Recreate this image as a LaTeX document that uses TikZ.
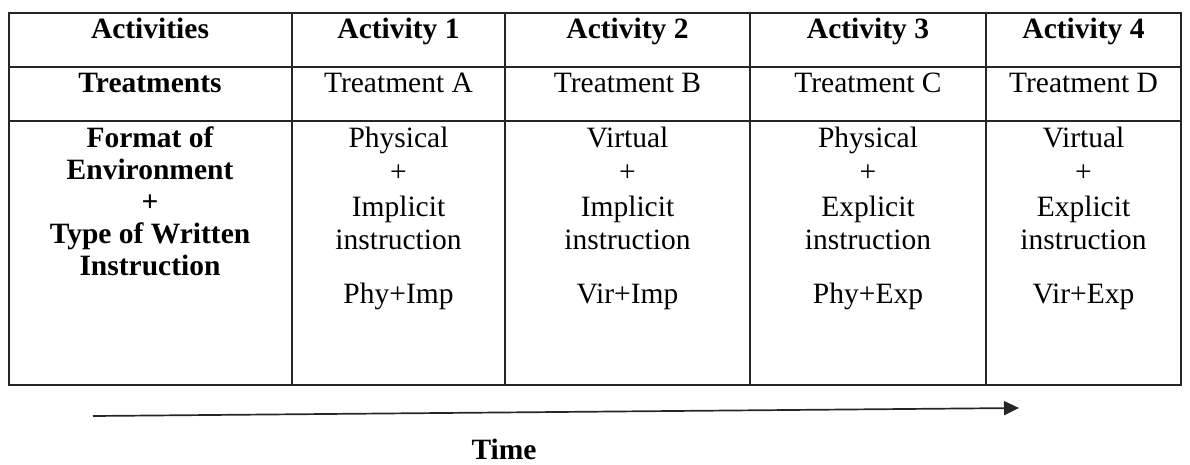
\documentclass[tikz,border=0pt]{standalone}
\usepackage{fontspec}
\setmainfont{Liberation Serif}
\usetikzlibrary{arrows.meta}
\begin{document}
\begin{tikzpicture}[x=1pt,y=-1pt,
  grid/.style={line width=1.5pt,black!85},
  txt/.style={inner sep=0pt,anchor=base,font=\fontsize{29.5}{34}\selectfont},
  btxt/.style={txt,font=\fontsize{29.5}{34}\selectfont\bfseries},
  timearrow/.style={line width=1.7pt,black!85,-{Triangle[length=15pt,width=14pt]}}]
\useasboundingbox (0,0) rectangle (1190,464);
% table frame
\draw[grid] (9,13) rectangle (1181,385);
\draw[grid] (9,67) -- (1181,67);
\draw[grid] (9,121) -- (1181,121);
\foreach \x in {292,505,750,986} \draw[grid] (\x,13) -- (\x,385);
% header row
\node[btxt] (h0) at (150,38) {Activities};
\node[btxt] (h1) at (398.5,38) {Activity 1};
\node[btxt] (h2) at (627.5,38) {Activity 2};
\node[btxt] (h3) at (868,38) {Activity 3};
\node[btxt] (h4) at (1083.5,38) {Activity 4};
% treatments row
\node[btxt] (t0) at (150,92) {Treatments};
\node[txt] (t1) at (398.5,92) {Treatment A};
\node[txt] (t2) at (627.5,92) {Treatment B};
\node[txt] (t3) at (868,92) {Treatment C};
\node[txt] (t4) at (1083.5,92) {Treatment D};
% left column of third row
\node[btxt] (l1) at (150,147) {Format of};
\node[btxt] (l2) at (150,179) {Environment};
\node[btxt] (l3) at (150,211) {+};
\node[btxt] (l4) at (150,243) {Type of Written};
\node[btxt] (l5) at (150,275) {Instruction};
% activity cells
\foreach \cx/\env/\ins/\code/\nm in {398.5/Physical/Implicit/Phy+Imp/a,627.5/Virtual/Implicit/Vir+Imp/b,868/Physical/Explicit/Phy+Exp/c,1083.5/Virtual/Explicit/Vir+Exp/d}{
  \node[txt] (\nm1) at (\cx,147) {\env};
  \node[txt] (\nm2) at (\cx,181) {+};
  \node[txt] (\nm3) at (\cx,216) {\ins};
  \node[txt] (\nm4) at (\cx,249) {instruction};
  \node[txt] (\nm5) at (\cx,303) {\code};
}
% time arrow
\coordinate (tstart) at (93,416);
\coordinate (tend) at (1019,408);
\draw[timearrow] (tstart) -- (tend);
\node[btxt] (time) at (504,459) {Time};
\end{tikzpicture}
\end{document}
